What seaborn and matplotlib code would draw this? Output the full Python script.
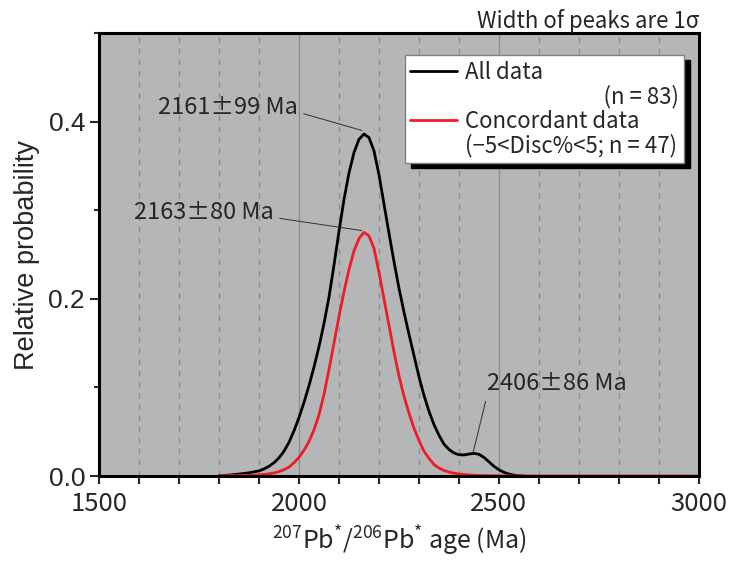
import seaborn as sns
import matplotlib.pyplot as plt
from matplotlib.lines import Line2D
from matplotlib.ticker import MultipleLocator

# probability density curves (age in Ma)
ages_all = [1800, 1825, 1850, 1875, 1900, 1912.5, 1925, 1937.5, 1950, 1962.5, 1975, 1987.5,
            2000, 2012.5, 2025, 2037.5, 2050, 2062.5, 2075, 2087.5, 2100, 2112.5, 2125, 2137.5,
            2150, 2162.5, 2175, 2187.5, 2200, 2212.5, 2225, 2237.5, 2250, 2262.5, 2275, 2287.5,
            2300, 2312.5, 2325, 2337.5, 2350, 2362.5, 2375, 2387.5, 2400, 2412.5, 2425, 2437.5,
            2450, 2462.5, 2475, 2487.5, 2500, 2512.5, 2525, 2537.5, 2550, 2562.5]
prob_all = [0.0003, 0.0010, 0.0022, 0.0036, 0.0058, 0.0080, 0.0110, 0.0150, 0.0205, 0.028, 0.038, 0.051,
            0.066, 0.083, 0.102, 0.123, 0.146, 0.172, 0.202, 0.238, 0.276, 0.312, 0.342, 0.365,
            0.380, 0.386, 0.382, 0.367, 0.340, 0.307, 0.274, 0.242, 0.212, 0.185, 0.160, 0.136,
            0.112, 0.091, 0.073, 0.058, 0.046, 0.036, 0.030, 0.026, 0.024, 0.0238, 0.0248, 0.0256,
            0.0245, 0.021, 0.016, 0.011, 0.007, 0.0042, 0.0022, 0.001, 0.0003, 0.0]

ages_conc = [1800, 1825, 1850, 1875, 1900, 1912.5, 1925, 1937.5, 1950, 1962.5, 1975, 1987.5,
             2000, 2012.5, 2025, 2037.5, 2050, 2062.5, 2075, 2087.5, 2100, 2112.5, 2125, 2137.5,
             2150, 2162.5, 2175, 2187.5, 2200, 2212.5, 2225, 2237.5, 2250, 2262.5, 2275, 2287.5,
             2300, 2312.5, 2325, 2337.5, 2350, 2362.5, 2375, 2387.5, 2400, 2425, 2450, 2500,
             2600, 3000]
prob_conc = [0.0002, 0.0004, 0.0006, 0.0009, 0.0013, 0.0018, 0.0025, 0.0034, 0.0050, 0.0072, 0.010, 0.015,
             0.021, 0.029, 0.039, 0.052, 0.069, 0.092, 0.120, 0.150, 0.180, 0.208, 0.233, 0.254,
             0.268, 0.275, 0.271, 0.257, 0.230, 0.200, 0.170, 0.140, 0.113, 0.090, 0.071, 0.054,
             0.040, 0.028, 0.020, 0.013, 0.009, 0.0063, 0.0045, 0.0032, 0.0023, 0.0012, 0.0006, 0.0002,
             0.0, 0.0]

peak_labels = ["2161\u00b199 Ma", "2163\u00b180 Ma", "2406\u00b186 Ma"]
peak_xy = [(2157, 0.390), (2157, 0.277), (2435, 0.026)]
label_xy = [(1822, 0.416), (1762, 0.297), (2645, 0.104)]

legend_labels = ["All data", "\u3000\u3000\u3000\u3000\u3000\u3000 (n = 83)",
                 "Concordant data", "(\u22125<Disc%<5; n = 47)"]

sns.set_style("ticks")
jp = ["Noto Sans CJK JP", "DejaVu Sans"]
arial = ["Liberation Sans", "DejaVu Sans"]
plt.rcParams["font.family"] = jp
plt.rcParams["mathtext.default"] = "regular"

fig = plt.figure(figsize=(7.29, 5.63), dpi=100)
ax = fig.add_axes([0.1358, 0.1545, 0.8230, 0.7869])
ax.set_facecolor("#b5b6b8")

sns.lineplot(x=ages_all, y=prob_all, ax=ax, color="black", lw=2.0)
sns.lineplot(x=ages_conc, y=prob_conc, ax=ax, color="#ee1c24", lw=2.0)

ax.set_xlim(1500, 3000)
ax.set_ylim(0, 0.5)
ax.xaxis.set_major_locator(MultipleLocator(500))
ax.xaxis.set_minor_locator(MultipleLocator(100))
ax.yaxis.set_major_locator(MultipleLocator(0.2))
ax.yaxis.set_minor_locator(MultipleLocator(0.1))
ax.yaxis.set_major_formatter(lambda v, p: f"{v:.1f}")

ax.grid(axis="x", which="major", color="#8e8e8e", lw=1.0, ls="-")
ax.grid(axis="x", which="minor", color="#8e8e8e", lw=1.0, ls=(0, (4, 4)))
ax.set_axisbelow(True)

ax.tick_params(axis="x", which="both", direction="out", length=6, width=1.5,
               labelsize=18.5, pad=5)
ax.tick_params(axis="y", which="major", direction="out", length=6.5, width=1.5,
               labelsize=19)
ax.tick_params(axis="y", which="minor", direction="out", length=3.5, width=1.5)
for t in ax.get_yticklabels():
    t.set_family(arial)
for s in ax.spines.values():
    s.set_visible(True)
    s.set_linewidth(2.2)
    s.set_color("black")

ax.set_ylabel("Relative probability", fontsize=19.5, family=arial, labelpad=6)
ax.set_xlabel("$^{207}$Pb$^{*}$/$^{206}$Pb$^{*}$ age (Ma)", fontsize=18, labelpad=4)
ax.set_title("Width of peaks are 1\u03c3", loc="right", fontsize=16, pad=3)

for lab, xy, xyt in zip(peak_labels, peak_xy, label_xy):
    ax.annotate(lab, xy=xy, xytext=xyt, fontsize=17, ha="center", va="center",
                arrowprops=dict(arrowstyle="-", color="#303030", lw=0.7,
                                shrinkA=2, shrinkB=0,
                                relpos=(0.0, 0.0) if xyt[0] > xy[0] else (1.0, 0.3)))

blank = Line2D([], [], color="none")
handles = [ax.lines[0], blank, ax.lines[1], blank]
leg = ax.legend(handles, legend_labels, loc="upper right", bbox_to_anchor=(0.975, 0.95),
                borderaxespad=0, fontsize=16, handlelength=2.1, handletextpad=0.35,
                labelspacing=0.05, borderpad=0.25, fancybox=False, framealpha=1,
                edgecolor="#808080",
                shadow={"ox": 4.3, "oy": -3.6, "facecolor": "black",
                        "edgecolor": "black", "alpha": 1})
leg.get_frame().set_linewidth(1.0)

fig.savefig("out.png", dpi=100)
